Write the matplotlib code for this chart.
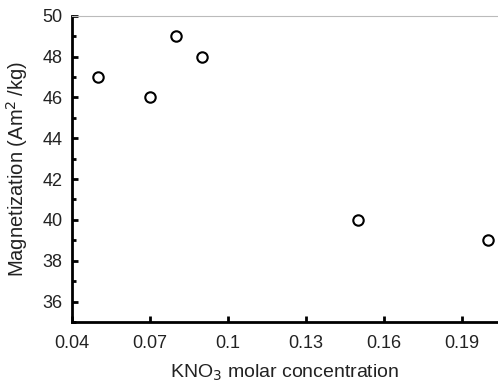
import matplotlib
matplotlib.use("Agg")
import matplotlib.pyplot as plt
from matplotlib.ticker import MultipleLocator

plt.rcParams['font.family'] = ['Liberation Sans', 'DejaVu Sans']

concentration = [0.05, 0.07, 0.08, 0.09, 0.15, 0.20]
magnetization = [47, 46, 49, 48, 40, 39]
x_ticks = [0.04, 0.07, 0.10, 0.13, 0.16, 0.19]
x_labels = ["0.04", "0.07", "0.1", "0.13", "0.16", "0.19"]
y_ticks = [36, 38, 40, 42, 44, 46, 48, 50]

fig = plt.figure(figsize=(4.98, 3.85), dpi=100)
ax = fig.add_axes([0.1446, 0.1636, 0.8534, 0.7956])

ax.plot(concentration, magnetization, linestyle='none', marker='o', markersize=7.5,
        markerfacecolor='white', markeredgecolor='black', markeredgewidth=1.5, clip_on=False)

ax.set_xlim(0.04, 0.2035)
ax.set_ylim(35, 50)
ax.set_xticks(x_ticks)
ax.set_xticklabels(x_labels)
ax.set_yticks(y_ticks)
ax.yaxis.set_minor_locator(MultipleLocator(1))

ax.spines['right'].set_visible(False)
ax.spines['top'].set_color('#bbbbbb')
ax.spines['top'].set_linewidth(0.8)
ax.spines['left'].set_linewidth(2)
ax.spines['bottom'].set_linewidth(2)

ax.tick_params(axis='both', which='major', direction='in', length=4, width=2, labelsize=13,
               colors='black', labelcolor='#222222')
ax.tick_params(axis='x', which='major', pad=9)
ax.tick_params(axis='y', which='major', pad=7)
ax.tick_params(axis='y', which='minor', direction='in', length=3, width=2)
ax.tick_params(axis='x', which='minor', bottom=False)

ax.set_xlabel(r'KNO$_3$ molar concentration', fontsize=14, color='#222222', labelpad=8)
ax.set_ylabel('Magnetization (Am$^2$\u2009/kg)', fontsize=14.5, color='#222222', labelpad=9)

fig.savefig('out.png', dpi=100)
